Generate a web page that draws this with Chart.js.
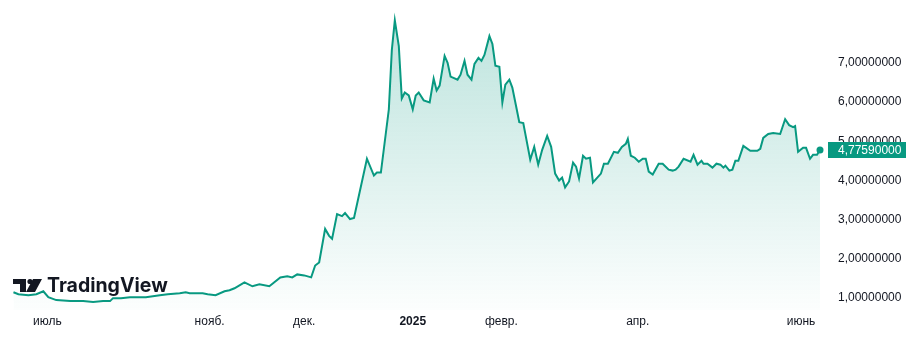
<!DOCTYPE html>
<html>
<head>
<meta charset="utf-8">
<script src="https://cdn.jsdelivr.net/npm/chart.js@4.4.1/dist/chart.umd.min.js"></script>
<style>
  html, body { margin: 0; background: #ffffff; }
  #wrap { width: 915px; height: 340px; }
</style>
</head>
<body>
<div id="wrap"><canvas id="chart"></canvas></div>
<script>
// -----------------------------
// DATA (x = session index, y = price)
// -----------------------------
const days = [
  0, 5, 15, 23, 30, 35, 43, 57, 70, 80, 90, 97, 100, 108, 117, 125, 133, 140, 147, 155,
  167, 173, 177, 183, 190, 195, 203, 212, 217, 222, 232, 240, 247, 257, 268, 275, 280, 285, 292, 299,
  303, 307, 313, 317, 320, 325, 330, 333, 338, 342, 355, 362, 365, 369, 377, 380, 383, 387, 390, 393,
  397, 401, 404, 407, 412, 418, 422, 425, 428, 433, 436, 439, 446, 449, 453, 456, 460, 463, 467, 470,
  473, 478, 481, 484, 488, 491, 494, 498, 501, 505, 508, 512, 519, 523, 527, 531, 536, 540, 544, 548,
  551, 554, 558, 562, 565, 568, 572, 575, 579, 582, 590, 593, 597, 603, 607, 611, 615, 617, 620, 624,
  628, 632, 635, 638, 642, 648, 652, 658, 662, 665, 668, 673, 680, 683, 687, 691, 693, 697, 702, 706,
  710, 713, 715, 719, 722, 725, 728, 733, 740, 747, 750, 753, 758, 763, 770, 775, 779, 783, 785, 788,
  793, 796, 800, 803, 807, 810
];

const prices = [
  1.151, 1.101, 1.076, 1.101, 1.176, 1.025, 0.950, 0.924, 0.924, 0.899, 0.924, 0.924, 1.000, 1.000, 1.025, 1.025, 1.025, 1.050, 1.076, 1.101,
  1.126, 1.151, 1.126, 1.126, 1.126, 1.101, 1.076, 1.176, 1.202, 1.252, 1.403, 1.302, 1.353, 1.302, 1.529, 1.555, 1.529, 1.605, 1.580, 1.529,
  1.832, 1.908, 2.765, 2.588, 2.513, 3.143, 3.092, 3.168, 3.017, 3.042, 4.554, 4.126, 4.202, 4.202, 5.815, 7.327, 8.084, 7.428, 6.092, 6.243,
  6.168, 5.815, 6.168, 6.243, 6.042, 5.991, 6.596, 6.294, 6.420, 7.176, 7.000, 6.647, 6.571, 6.697, 7.050, 6.697, 6.571, 6.974, 7.126, 7.050,
  7.201, 7.680, 7.479, 6.924, 6.899, 5.991, 6.445, 6.571, 6.369, 5.865, 5.487, 5.462, 4.529, 4.857, 4.403, 4.781, 5.134, 4.857, 4.176, 3.999,
  4.075, 3.823, 3.975, 4.454, 4.353, 4.050, 4.630, 4.554, 4.580, 3.949, 4.176, 4.428, 4.428, 4.731, 4.706, 4.857, 4.933, 5.059, 4.630, 4.580,
  4.479, 4.554, 4.554, 4.227, 4.151, 4.428, 4.428, 4.277, 4.252, 4.277, 4.353, 4.554, 4.479, 4.655, 4.403, 4.504, 4.428, 4.428, 4.327, 4.428,
  4.403, 4.327, 4.378, 4.252, 4.277, 4.504, 4.504, 4.882, 4.756, 4.756, 4.807, 5.084, 5.185, 5.210, 5.185, 5.563, 5.411, 5.361, 5.386, 4.731,
  4.832, 4.832, 4.554, 4.655, 4.655, 4.7759
];

const tickDays = [34, 197, 292, 401, 490, 627, 791];
const tickLabels = ["июль", "нояб.", "дек.", "2025", "февр.", "апр.", "июнь"];
const priceTicks = [1, 2, 3, 4, 5, 6, 7];
const lastPrice = 4.7759;

const GREEN = "#089981";
const TEXT = "#131722";
const FONT = "'Liberation Sans', Arial, sans-serif";

const fmt = (v) => v.toFixed(8).replace(".", ",");

// -----------------------------
// PLUGINS
// -----------------------------
const lastPriceLabel = {
  id: "lastPriceLabel",
  afterDraw(chart) {
    const { ctx, chartArea, scales } = chart;
    const y = scales.y.getPixelForValue(lastPrice);
    ctx.save();
    ctx.fillStyle = GREEN;
    ctx.fillRect(chartArea.right + 8, Math.round(y) - 8, 78, 16);
    ctx.fillStyle = "#ffffff";
    ctx.font = "12px " + FONT;
    ctx.textAlign = "left";
    ctx.textBaseline = "middle";
    ctx.fillText(fmt(lastPrice), chartArea.right + 18, y + 0.5);
    ctx.restore();
  },
};

const logo = {
  id: "logo",
  afterDatasetsDraw(chart) {
    const { ctx } = chart;
    ctx.save();
    ctx.fillStyle = "#131722";
    // icon
    ctx.fillRect(13, 279, 13, 5);
    ctx.fillRect(20, 279, 6, 13);
    ctx.beginPath();
    ctx.arc(30, 281.5, 2.6, 0, Math.PI * 2);
    ctx.fill();
    ctx.beginPath();
    ctx.moveTo(33, 279);
    ctx.lineTo(42, 279);
    ctx.lineTo(35, 292);
    ctx.lineTo(26, 292);
    ctx.closePath();
    ctx.fill();
    // wordmark
    ctx.font = "700 17px Inter, " + FONT;
    const w = ctx.measureText("TradingView").width;
    const size = (17 * 121 / w).toFixed(1);
    ctx.font = "700 " + size + "px Inter, " + FONT;
    ctx.textAlign = "left";
    ctx.textBaseline = "alphabetic";
    ctx.fillText("TradingView", 47, 292);
    ctx.restore();
  },
};

// -----------------------------
// CHART
// -----------------------------
new Chart(document.getElementById("chart"), {
  type: "line",
  data: {
    datasets: [
      {
        data: days.map((d, i) => ({ x: d, y: prices[i] })),
        borderColor: GREEN,
        borderWidth: 2,
        tension: 0,
        clip: false,
        fill: "start",
        backgroundColor: (c) => {
          const area = c.chart.chartArea;
          if (!area) return "rgba(8,153,129,0.15)";
          const g = c.chart.ctx.createLinearGradient(0, area.top, 0, area.bottom);
          g.addColorStop(0, "rgba(8,153,129,0.28)");
          g.addColorStop(1, "rgba(8,153,129,0.01)");
          return g;
        },
        pointRadius: (c) => (c.dataIndex === days.length - 1 ? 3.5 : 0),
        pointBackgroundColor: GREEN,
        pointBorderWidth: 0,
        pointHoverRadius: 0,
      },
    ],
  },
  options: {
    responsive: true,
    maintainAspectRatio: false,
    animation: false,
    layout: { padding: 0 },
    plugins: {
      legend: { display: false },
      tooltip: { enabled: false },
    },
    scales: {
      x: {
        type: "linear",
        min: -10,
        max: 810,
        grid: { display: false, drawTicks: false },
        border: { display: false },
        afterBuildTicks: (s) => { s.ticks = tickDays.map((v) => ({ value: v })); },
        afterFit: (s) => { s.height = 30; },
        ticks: {
          autoSkip: false,
          maxRotation: 0,
          padding: 4,
          color: TEXT,
          font: (c) => ({ family: FONT, size: 12, weight: c.index === 3 ? "bold" : "normal" }),
          callback: (v, i) => tickLabels[i],
        },
      },
      y: {
        position: "right",
        min: 0.6975,
        max: 8.512,
        grid: { display: false, drawTicks: false },
        border: { display: false },
        afterBuildTicks: (s) => { s.ticks = priceTicks.map((v) => ({ value: v })); },
        afterFit: (s) => {
          s.width = 95;
          s.paddingTop = 0;
          s.paddingBottom = 0;
        },
        ticks: {
          padding: 18,
          color: TEXT,
          font: { family: FONT, size: 12 },
          callback: (v) => fmt(v),
        },
      },
    },
  },
  plugins: [logo, lastPriceLabel],
});
</script>
</body>
</html>
